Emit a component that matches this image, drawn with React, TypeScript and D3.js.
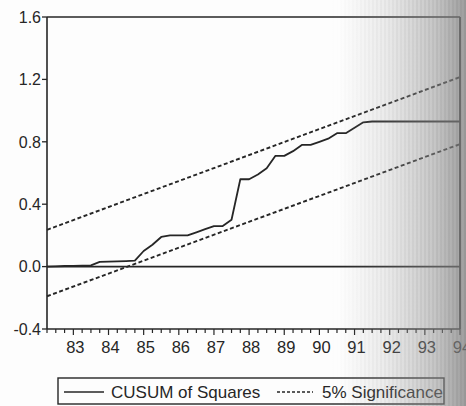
import React from "react";
import * as d3 from "d3";

// Quarterly sample: 1982Q2 .. 1994Q1 (48 observations)
const startYear = 1982.25;
const quarterCount = 48;

// CUSUM of squares, one value per quarter
const cusumSq = [
  0.0, 0.002, 0.004, 0.005, 0.006, 0.008, 0.03, 0.032, 0.033, 0.035,
  0.038, 0.1, 0.14, 0.19, 0.2, 0.2, 0.2, 0.22, 0.24, 0.26,
  0.26, 0.3, 0.56, 0.56, 0.59, 0.63, 0.71, 0.71, 0.74, 0.78,
  0.78, 0.8, 0.82, 0.855, 0.855, 0.89, 0.925, 0.93, 0.93, 0.93,
  0.93, 0.93, 0.93, 0.93, 0.93, 0.93, 0.93, 0.93,
];

// 5% significance bounds at the first and last observation
const upperBand = [0.236, 1.215];
const lowerBand = [-0.19, 0.785];

const yTicks = [-0.4, 0.0, 0.4, 0.8, 1.2, 1.6];
const yearTicks = [1983, 1984, 1985, 1986, 1987, 1988, 1989, 1990, 1991, 1992, 1993, 1994];
const yearLabels = ["83", "84", "85", "86", "87", "88", "89", "90", "91", "92", "93", "94"];

const W = 466;
const H = 406;
const left = 47;
const right = 460;
const top = 17;
const bottom = 329;

const ink = "#262626";
const font = "'Liberation Sans', Arial, sans-serif";

export default function App() {
  const dates = d3.range(quarterCount).map((i) => startYear + i * 0.25);
  const x = d3.scaleLinear().domain([startYear, dates[dates.length - 1]]).range([left, right]);
  const y = d3.scaleLinear().domain([-0.4, 1.6]).range([bottom, top]);

  const line = d3
    .line<[number, number]>()
    .x((d) => x(d[0]))
    .y((d) => y(d[1]));

  const cusumPath = line(dates.map((t, i) => [t, cusumSq[i]]));
  const ends = [dates[0], dates[dates.length - 1]];
  const upperPath = line(ends.map((t, i) => [t, upperBand[i]]));
  const lowerPath = line(ends.map((t, i) => [t, lowerBand[i]]));

  const minorTicks = d3.range(startYear, dates[dates.length - 1] + 0.001, 0.25);

  return (
    <svg
      width={W}
      height={H}
      style={{ position: "absolute", left: 0, top: 0, background: "#fdfdfd" }}
    >
      <defs>
        <linearGradient id="edgeShade" x1="0" x2="1" y1="0" y2="0">
          <stop offset="0" stopColor="#9c9c9c" stopOpacity="0" />
          <stop offset="0.35" stopColor="#9c9c9c" stopOpacity="0.18" />
          <stop offset="0.75" stopColor="#8f8f8f" stopOpacity="0.5" />
          <stop offset="1" stopColor="#7d7d7d" stopOpacity="0.75" />
        </linearGradient>
        <pattern id="bands" width="4" height="10" patternUnits="userSpaceOnUse">
          <rect width="2" height="10" fill="#6f6f6f" opacity="0.12" />
        </pattern>
        <linearGradient id="bandFade" x1="0" x2="1" y1="0" y2="0">
          <stop offset="0" stopColor="#fff" stopOpacity="0" />
          <stop offset="1" stopColor="#fff" stopOpacity="1" />
        </linearGradient>
        <mask id="bandMask">
          <rect x={330} y={0} width={W - 330} height={H} fill="url(#bandFade)" />
        </mask>
      </defs>

      {/* frame */}
      <line x1={left} x2={right} y1={top} y2={top} stroke={ink} strokeWidth={1.6} />
      <line x1={right} x2={right} y1={top} y2={bottom} stroke={ink} strokeWidth={1.8} />
      <line x1={left} x2={left} y1={top} y2={bottom} stroke={ink} strokeWidth={1.6} />
      <line x1={left} x2={right} y1={bottom} y2={bottom} stroke={ink} strokeWidth={1.6} />

      {/* zero line */}
      <line x1={left} x2={right} y1={y(0)} y2={y(0)} stroke={ink} strokeWidth={1.6} />

      {/* y axis */}
      {yTicks.map((v) => (
        <g key={v}>
          <line x1={left - 5} x2={left} y1={y(v)} y2={y(v)} stroke={ink} strokeWidth={1.3} />
          <text
            x={left - 6}
            y={y(v)}
            dy="0.36em"
            textAnchor="end"
            fontFamily={font}
            fontSize={16}
            fill={ink}
          >
            {v.toFixed(1)}
          </text>
        </g>
      ))}

      {/* x axis ticks */}
      {minorTicks.map((t) => {
        const major = Math.abs(t - Math.round(t)) < 1e-6;
        return (
          <line
            key={t}
            x1={x(t)}
            x2={x(t)}
            y1={bottom}
            y2={bottom + (major ? 6 : 4)}
            stroke={ink}
            strokeWidth={1.2}
          />
        );
      })}
      {yearTicks.map((t, i) => (
        <text
          key={t}
          x={x(t) + 2}
          y={bottom + 24}
          textAnchor="middle"
          fontFamily={font}
          fontSize={16.5}
          fill={ink}
        >
          {yearLabels[i]}
        </text>
      ))}

      {/* significance bounds */}
      <path d={upperPath ?? ""} fill="none" stroke={ink} strokeWidth={1.9} strokeDasharray="4 2.5" />
      <path d={lowerPath ?? ""} fill="none" stroke={ink} strokeWidth={1.9} strokeDasharray="4 2.5" />

      {/* CUSUM of squares */}
      <path d={cusumPath ?? ""} fill="none" stroke={ink} strokeWidth={1.8} strokeLinejoin="round" />

      {/* legend */}
      <rect x={58} y={378} width={386} height={26} fill="none" stroke={ink} strokeWidth={1.4} />
      <line x1={64} x2={104} y1={392} y2={392} stroke={ink} strokeWidth={1.4} />
      <text x={111} y={398} fontFamily={font} fontSize={17} fill={ink}>
        CUSUM of Squares
      </text>
      <line x1={277} x2={313} y1={392} y2={392} stroke={ink} strokeWidth={1.4} strokeDasharray="3 2" />
      <text x={322} y={398} fontFamily={font} fontSize={17} fill={ink}>
        5% Significance
      </text>

      {/* shading toward the right edge */}
      <rect x={340} y={0} width={W - 340} height={H} fill="url(#edgeShade)" />
      <rect x={330} y={0} width={W - 330} height={H} fill="url(#bands)" mask="url(#bandMask)" />
    </svg>
  );
}
